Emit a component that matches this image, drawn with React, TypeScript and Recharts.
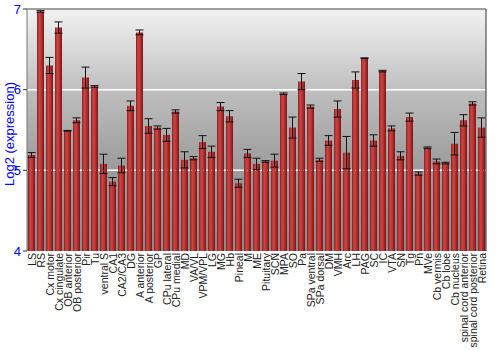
import { BarChart, Bar, XAxis, YAxis, CartesianGrid, ReferenceLine, ErrorBar } from "recharts";

const regions = [
  "LS", "RS", "Cx motor", "Cx cingulate", "OB anterior", "OB posterior", "Pir", "Tu",
  "ventral S", "CA1", "CA2/CA3", "DG", "A anterior", "A posterior", "GP", "CPu lateral",
  "CPu medial", "MD", "VA/VL", "VPM/VPL", "LG", "MG", "Hb", "Pineal", "M", "ME",
  "Pituitary", "SCN", "MPA", "SO", "Pa", "SPa ventral", "SPa dorsal", "DM", "VMH", "Arc",
  "LH", "PAG", "SC", "IC", "VTA", "SN", "Tg", "Pn", "MVe", "Cb vermis", "Cb lobe",
  "Cb nucleus", "spinal cord anterior", "spinal cord posterior", "Retina",
];

const log2Expr = [
  5.19, 6.97, 6.3, 6.77, 5.49, 5.62, 6.15, 6.04,
  5.08, 4.86, 5.06, 5.8, 6.71, 5.55, 5.53, 5.44,
  5.73, 5.13, 5.15, 5.35, 5.23, 5.79, 5.67, 4.84, 5.21, 5.08,
  5.11, 5.12, 5.95, 5.53, 6.1, 5.79, 5.13, 5.37, 5.76, 5.22,
  6.12, 6.39, 5.37, 6.23, 5.52, 5.18, 5.66, 4.96, 5.28, 5.11, 5.09,
  5.33, 5.62, 5.83, 5.53,
];

const errs = [
  0.03, 0.01, 0.1, 0.07, 0.005, 0.03, 0.13, 0.01,
  0.12, 0.05, 0.09, 0.06, 0.03, 0.09, 0.02, 0.08,
  0.02, 0.1, 0.02, 0.08, 0.07, 0.05, 0.07, 0.05, 0.05, 0.07,
  0.01, 0.08, 0.01, 0.13, 0.1, 0.02, 0.02, 0.06, 0.1, 0.2,
  0.1, 0.005, 0.07, 0.01, 0.03, 0.05, 0.05, 0.02, 0.01, 0.03, 0.01,
  0.14, 0.07, 0.02, 0.12,
];

const yTicks = [4, 5, 6, 7];

const data = regions.map((name, i) => ({ name, value: log2Expr[i], err: errs[i] }));

const font = "'Liberation Sans', Arial, sans-serif";

const RegionTick = ({ x, y, payload }: any) => (
  <text
    x={x}
    y={y}
    transform={`rotate(-90 ${x} ${y})`}
    textAnchor="end"
    dominantBaseline="central"
    fontSize={10.5}
    fontFamily={font}
    fill="#222"
  >
    {payload.value}
  </text>
);

export default function App() {
  return (
    <div style={{ position: "absolute", left: 0, top: 0, background: "#fff" }}>
      <BarChart
        width={500}
        height={350}
        data={data}
        margin={{ top: 9, right: 0, bottom: 0, left: 0 }}
        barCategoryGap={1}
      >
        <defs>
          <linearGradient id="bg" x1="0" y1="0" x2="0" y2="1">
            <stop offset="0%" stopColor="#f2f2f2" />
            <stop offset="35%" stopColor="#bdbdbd" />
            <stop offset="65%" stopColor="#9c9c9c" />
            <stop offset="100%" stopColor="#8a8a8a" />
          </linearGradient>
          <linearGradient id="barFill" x1="0" y1="0" x2="1" y2="0">
            <stop offset="0%" stopColor="#8a1c1c" />
            <stop offset="30%" stopColor="#cc4646" />
            <stop offset="60%" stopColor="#b93434" />
            <stop offset="100%" stopColor="#7a1414" />
          </linearGradient>
        </defs>
        <CartesianGrid
          yAxisId="left"
          vertical={false}
          horizontalValues={[5, 6]}
          stroke="#ffffff"
          strokeWidth={1.5}
          fill="url(#bg)"
        />
        <XAxis
          dataKey="name"
          interval={0}
          height={99}
          tickLine={false}
          axisLine={false}
          tickSize={2}
          tickMargin={0}
          tick={<RegionTick />}
        />
        <YAxis
          yAxisId="left"
          domain={[4, 7]}
          ticks={yTicks}
          width={27}
          tickSize={4}
          tickMargin={2}
          axisLine={{ stroke: "#777" }}
          tickLine={{ stroke: "#333" }}
          tick={{ fill: "#0000ff", fontSize: 13, fontFamily: font }}
          label={() => (
            <text
              x={9}
              y={134}
              transform="rotate(-90 9 134)"
              textAnchor="middle"
              dominantBaseline="central"
              fill="#0000ff"
              fontSize={13}
              fontFamily={font}
            >
              Log2 (expression)
            </text>
          )}
        />
        <YAxis
          yAxisId="right"
          orientation="right"
          domain={[4, 7]}
          ticks={yTicks}
          width={14}
          tickSize={3}
          tickMargin={1}
          axisLine={{ stroke: "#333" }}
          tickLine={{ stroke: "#333" }}
          tick={{ fill: "#0000ff", fontSize: 13, fontFamily: font }}
        />
        <ReferenceLine yAxisId="left" y={7} stroke="#808080" strokeWidth={1.5} />
        <Bar yAxisId="left" dataKey="value" fill="url(#barFill)" isAnimationActive={false}>
          <ErrorBar dataKey="err" width={4} stroke="#111" strokeWidth={1} />
        </Bar>
        <ReferenceLine yAxisId="left" y={5} stroke="#ffffff" strokeOpacity={0.35} strokeDasharray="1 3" />
      </BarChart>
    </div>
  );
}
